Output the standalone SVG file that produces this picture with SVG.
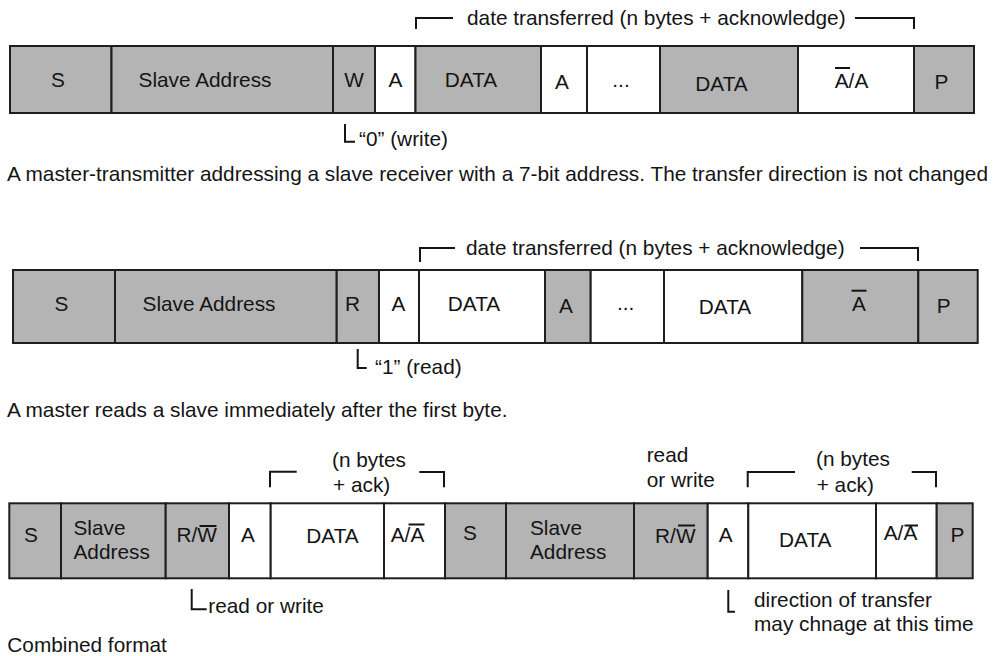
<svg xmlns="http://www.w3.org/2000/svg" width="994" height="656" viewBox="0 0 994 656">
<style>
text{font-family:"Liberation Sans",Arial,sans-serif;font-size:20.8px;fill:#141414}
.c{text-anchor:middle}
.g{fill:#b4b4b4;stroke:#1e1e1e;stroke-width:2}
.w{fill:#ffffff;stroke:#1e1e1e;stroke-width:2}
.ln{fill:none;stroke:#141414;stroke-width:2}
.ov{stroke:#141414;stroke-width:2}
</style>
<rect width="994" height="656" fill="#ffffff"/>

<!-- Row 1 -->
<g id="row1">
<g id="r1-s"><rect class="g" x="10" y="46" width="101.5" height="67"/><text class="c" x="58" y="87">S</text></g>
<g id="r1-addr"><rect class="g" x="111.5" y="46" width="221.5" height="67"/><text class="c" x="205" y="87">Slave Address</text></g>
<g id="r1-w"><rect class="g" x="333" y="46" width="42" height="67"/><text class="c" x="354" y="87">W</text></g>
<g id="r1-a1"><rect class="w" x="375" y="46" width="40.5" height="67"/><text class="c" x="395.5" y="87">A</text></g>
<g id="r1-data1"><rect class="g" x="415.5" y="46" width="125.5" height="67"/><text class="c" x="471" y="87">DATA</text></g>
<g id="r1-a2"><rect class="w" x="541" y="46" width="46" height="67"/><text class="c" x="562" y="89">A</text></g>
<g id="r1-dots"><rect class="w" x="587" y="46" width="73" height="67"/><text class="c" x="621" y="87">...</text></g>
<g id="r1-data2"><rect class="g" x="660" y="46" width="138" height="67"/><text class="c" x="721.5" y="90.5">DATA</text></g>
<g id="r1-nack"><rect class="w" x="798" y="46" width="116" height="67"/><text class="c" x="851.5" y="88">A/A</text><line class="ov" x1="835" y1="68" x2="850" y2="68"/></g>
<g id="r1-p"><rect class="g" x="914" y="46" width="60" height="67"/><text class="c" x="941.5" y="89">P</text></g>
</g>

<!-- Row 2 -->
<g id="row2">
<g id="r2-s"><rect class="g" x="13" y="270" width="102" height="73"/><text class="c" x="61.5" y="311">S</text></g>
<g id="r2-addr"><rect class="g" x="115" y="270" width="221.7" height="73"/><text class="c" x="209" y="311">Slave Address</text></g>
<g id="r2-r"><rect class="g" x="336.7" y="270" width="42.3" height="73"/><text class="c" x="352.5" y="311">R</text></g>
<g id="r2-a1"><rect class="w" x="379" y="270" width="40" height="73"/><text class="c" x="398.5" y="311">A</text></g>
<g id="r2-data1"><rect class="w" x="419" y="270" width="126" height="73"/><text class="c" x="474" y="311">DATA</text></g>
<g id="r2-a2"><rect class="g" x="545" y="270" width="45.7" height="73"/><text class="c" x="566" y="313">A</text></g>
<g id="r2-dots"><rect class="w" x="590.7" y="270" width="73.3" height="73"/><text class="c" x="625.7" y="309.5">...</text></g>
<g id="r2-data2"><rect class="w" x="664" y="270" width="138.3" height="73"/><text class="c" x="725" y="314">DATA</text></g>
<g id="r2-nack"><rect class="g" x="802.3" y="270" width="116" height="73"/><text class="c" x="859" y="311">A</text><line class="ov" x1="851.5" y1="290.7" x2="866.5" y2="290.7"/></g>
<g id="r2-p"><rect class="g" x="918.3" y="270" width="59.4" height="73"/><text class="c" x="943.7" y="312.5">P</text></g>
</g>

<!-- Row 3 -->
<g id="row3">
<g id="r3-s1"><rect class="g" x="9.3" y="503.3" width="51.7" height="75"/><text class="c" x="31" y="541.5">S</text></g>
<g id="r3-addr1"><rect class="g" x="61" y="503.3" width="104.7" height="75"/><text x="73.5" y="535">Slave</text><text x="73.5" y="559">Address</text></g>
<g id="r3-rw1"><rect class="g" x="165.7" y="503.3" width="63.3" height="75"/><text class="c" x="196.7" y="541.5">R/W</text><line class="ov" x1="199.5" y1="526" x2="216.5" y2="526"/></g>
<g id="r3-a1"><rect class="w" x="229" y="503.3" width="41.7" height="75"/><text class="c" x="248" y="541.5">A</text></g>
<g id="r3-data1"><rect class="w" x="270.7" y="503.3" width="113.3" height="75"/><text class="c" x="332.5" y="543">DATA</text></g>
<g id="r3-ack1"><rect class="w" x="384" y="503.3" width="61" height="75"/><text class="c" x="407.5" y="541.5">A/A</text><line class="ov" x1="408.5" y1="524.5" x2="424.5" y2="524.5"/></g>
<g id="r3-s2"><rect class="g" x="445" y="503.3" width="61" height="75"/><text class="c" x="470" y="540">S</text></g>
<g id="r3-addr2"><rect class="g" x="506" y="503.3" width="128" height="75"/><text x="530" y="535">Slave</text><text x="530" y="559">Address</text></g>
<g id="r3-rw2"><rect class="g" x="634" y="503.3" width="73.7" height="75"/><text class="c" x="675.3" y="543">R/W</text><line class="ov" x1="678" y1="525.5" x2="695" y2="525.5"/></g>
<g id="r3-a2"><rect class="w" x="707.7" y="503.3" width="40.6" height="75"/><text class="c" x="725.7" y="541.5">A</text></g>
<g id="r3-data2"><rect class="w" x="748.3" y="503.3" width="127.7" height="75"/><text class="c" x="805.3" y="546.5">DATA</text></g>
<g id="r3-ack2"><rect class="w" x="876" y="503.3" width="60.7" height="75"/><text class="c" x="900.5" y="540">A/A</text><line class="ov" x1="904.5" y1="525.5" x2="918" y2="525.5"/></g>
<g id="r3-p"><rect class="g" x="936.7" y="503.3" width="36" height="75"/><text class="c" x="957.5" y="541.5">P</text></g>
</g>

<!-- Brackets / annotation connectors -->
<g id="connectors">
<polyline class="ln" points="416,29 416,18 453,18"/>
<polyline class="ln" points="855,18 914,18 914,29"/>
<polyline class="ln" points="345,124 345,141.7 355,141.7"/>
<polyline class="ln" points="420,262 420,248 455,248"/>
<polyline class="ln" points="860,248 918,248 918,261"/>
<polyline class="ln" points="357.7,349 357.7,368 366.7,368"/>
<polyline class="ln" points="270,487.3 270,471.7 296.7,471.7"/>
<polyline class="ln" points="419.3,472 444,472 444,487.3"/>
<polyline class="ln" points="747.7,487.3 747.7,472 795,472"/>
<polyline class="ln" points="911.7,472 936,472 936,487.3"/>
<polyline class="ln" points="191.7,589 191.7,609.3 206.7,609.3"/>
<polyline class="ln" points="728.3,590 728.3,611.7 735,611.7"/>
</g>

<!-- Labels -->
<g id="labels">
<text x="467" y="25">date transferred (n bytes + acknowledge)</text>
<text x="359" y="146">“0” (write)</text>
<text x="7" y="181">A master-transmitter addressing a slave receiver with a 7-bit address. The transfer direction is not changed</text>
<text x="466" y="255">date transferred (n bytes + acknowledge)</text>
<text x="375" y="374">“1” (read)</text>
<text x="7" y="417">A master reads a slave immediately after the first byte.</text>
<text x="332" y="466.7">(n bytes</text>
<text x="333" y="491.7">+ ack)</text>
<text x="646.7" y="461.7">read</text>
<text x="646.7" y="487.3">or write</text>
<text x="816" y="466">(n bytes</text>
<text x="816.7" y="491.7">+ ack)</text>
<text x="208.3" y="612.7">read or write</text>
<text x="754" y="606.7">direction of transfer</text>
<text x="754" y="631">may chnage at this time</text>
<text x="7.3" y="651.7">Combined format</text>
</g>
</svg>
